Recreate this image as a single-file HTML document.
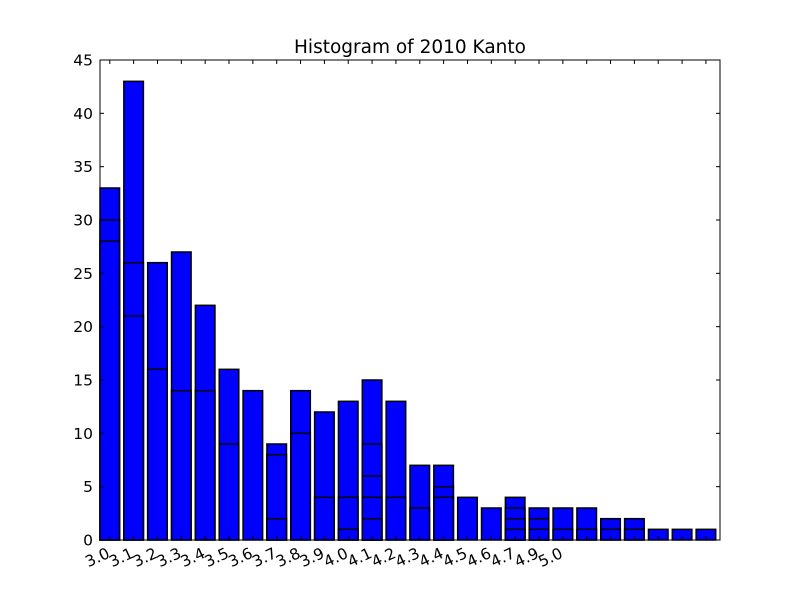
<!DOCTYPE html>
<html><head><meta charset="utf-8"><style>body{margin:0;background:#fff}svg{display:block}text{font-family:"DejaVu Sans","Liberation Sans",sans-serif;fill:#000}</style></head>
<body>
<svg id="chart" width="800" height="600" xmlns="http://www.w3.org/2000/svg">
<rect width="800" height="600" fill="#fff"/>
<text x="410" y="53" font-size="18.5" text-anchor="middle">Histogram of 2010 Kanto</text>
<g id="bars"></g>
<g id="axes"></g>
</svg>
<script>
const categories = ["3.0","3.1","3.2","3.3","3.4","3.5","3.6","3.7","3.8","3.9","4.0","4.1","4.2","4.3","4.4","4.5","4.6","4.7","4.9","5.0","","","","","",""];
const series1 = [33,43,26,27,22,16,14,9,14,12,13,15,13,7,7,4,3,4,3,3,3,2,2,1,1,1];
const series2 = [30,26,16,14,14,9,0,8,10,4,4,9,4,3,5,0,0,3,2,1,1,1,1,0,0,0];
const series3 = [28,21,0,0,0,0,0,2,0,0,1,6,0,0,4,0,0,2,1,0,0,0,0,0,0,0];
const series4 = [0,0,0,0,0,0,0,0,0,0,0,4,0,0,0,0,0,1,0,0,0,0,0,0,0,0];
const series5 = [0,0,0,0,0,0,0,0,0,0,0,2,0,0,0,0,0,0,0,0,0,0,0,0,0,0];
const yTicks = [0,5,10,15,20,25,30,35,40,45];

const NS="http://www.w3.org/2000/svg";
const L=100,R=720,T=60,B=540,yMax=45;
const n=categories.length, pitch=(R-L)/n, bw=pitch*0.82;
function xPos(i){return L+i*pitch;}
function yPos(v){return B-(v/yMax)*(B-T);}
const bars=document.getElementById('bars'), axes=document.getElementById('axes');
function mk(tag,attrs,parent){const e=document.createElementNS(NS,tag);for(const k in attrs)e.setAttribute(k,attrs[k]);parent.appendChild(e);return e;}
[series1,series2,series3,series4,series5].forEach((s,si)=>{
  s.forEach((v,i)=>{
    if(v<=0)return;
    const r=mk('rect',{x:xPos(i),y:yPos(v),width:bw,height:B-yPos(v),fill:'#0000ff',stroke:'#000','stroke-width':1.5},bars);
    
    
  });
});
const frame=mk('rect',{x:L,y:T,width:R-L,height:B-T,fill:'none',stroke:'#000','stroke-width':1},axes);


yTicks.forEach(v=>{
  const y=yPos(v);
  mk('line',{x1:L,x2:L+4,y1:y,y2:y,stroke:'#000'},axes);
  mk('line',{x1:R,x2:R-4,y1:y,y2:y,stroke:'#000'},axes);
  const t=mk('text',{x:L-7,y:y+5.5,'font-size':15.5,'text-anchor':'end'},axes);
  t.textContent=v;
  
  
});
categories.forEach((c,i)=>{
  const x=xPos(i)+bw/2;
  mk('line',{x1:x,x2:x,y1:B,y2:B-4,stroke:'#000'},axes);
  mk('line',{x1:x,x2:x,y1:T,y2:T+4,stroke:'#000'},axes);
  if(!c)return;
  const t=mk('text',{x:x+1,y:557,'font-size':15.5,'text-anchor':'end',transform:'rotate(-25 '+(x+1)+' 557)'},axes);
  t.textContent=c;
  
  
});
</script>
</body></html>
